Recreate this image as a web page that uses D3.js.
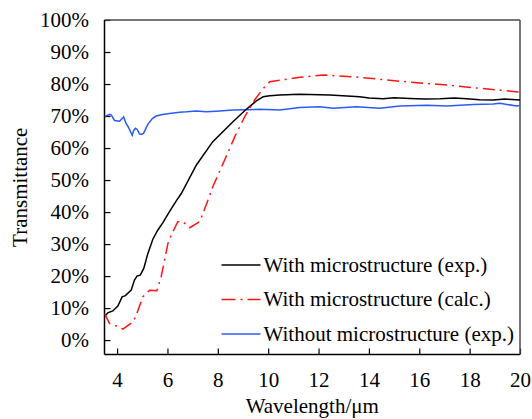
<!DOCTYPE html>
<html>
<head>
<meta charset="utf-8">
<script src="https://cdn.jsdelivr.net/npm/d3@7.9.0/dist/d3.min.js"></script>
<style>
  body { margin: 0; background: #fff; }
  svg { display: block; }
  svg text { font-family: "Liberation Serif", "Times New Roman", serif; fill: #000; }
  .axis text { font-size: 21px; }
  .axis path { display: none; }
  .axis line { stroke: #000; stroke-width: 1.2; }
</style>
</head>
<body>
<svg id="chart" width="532" height="419"></svg>
<script>
// wavelength (um) and transmittance (%)
const expWithWavelength = [3.5, 3.63, 3.83, 4.03, 4.2, 4.33, 4.56, 4.69, 4.79, 4.92, 5.06, 5.22, 5.42, 5.62, 5.82, 6.08, 6.37, 6.55, 7.15, 7.8, 8.6, 9.13, 9.53, 9.8, 10.06, 10.46, 11.25, 12.45, 13.64, 14.0, 14.57, 15.0, 15.63, 16.2, 16.82, 17.4, 17.88, 18.4, 18.94, 19.4, 20];
const expWith = [7.3, 8.5, 9.1, 10.6, 13.5, 13.9, 15.6, 18.75, 20, 20.3, 22.4, 27, 31.5, 34.4, 36.7, 40.1, 43.75, 45.8, 54.7, 62, 68.2, 72.1, 74.7, 76, 76.3, 76.6, 76.8, 76.6, 76, 75.6, 75.4, 75.7, 75.5, 75.3, 75.4, 75.6, 75.4, 75.1, 75, 75.3, 75];

const calcWithWavelength = [3.5, 3.7, 3.9, 4.23, 4.63, 4.76, 5.02, 5.29, 5.58, 5.75, 6.02, 6.15, 6.41, 6.61, 6.88, 7.28, 7.41, 7.61, 7.8, 8.27, 8.67, 9.07, 9.46, 9.8, 10.06, 11.25, 12.18, 13.64, 14.7, 15.9, 17.09, 18.28, 20];
const calcWith = [8.3, 5.2, 4.7, 3.4, 5.7, 7.8, 13.5, 15.6, 15.4, 19.8, 30.2, 32.8, 37, 37, 35.1, 37, 39.6, 43.75, 47.9, 56.25, 63.5, 69.8, 75, 78.6, 80.7, 82.1, 82.8, 82.1, 81.25, 80.4, 79.7, 78.75, 77.5];

const expWithoutWavelength = [3.5, 3.7, 3.77, 3.9, 4.1, 4.26, 4.36, 4.45, 4.6, 4.66, 4.73, 4.8, 4.89, 4.97, 5.05, 5.22, 5.4, 5.55, 5.8, 6.08, 6.48, 6.75, 7.15, 7.54, 7.94, 8.6, 9.13, 9.66, 10.46, 11.25, 12.05, 12.58, 13.5, 14.43, 15.23, 16.29, 17.09, 18.15, 18.94, 19.2, 19.87, 20];
const expWithout = [69.8, 70.5, 70.3, 68.6, 68.4, 69.7, 67.6, 66.5, 64.0, 65.5, 66.2, 65.8, 64.4, 64.3, 64.6, 67.4, 69.2, 70.0, 70.5, 70.8, 71.2, 71.3, 71.6, 71.3, 71.5, 71.9, 72.0, 72.1, 71.9, 72.7, 72.9, 72.4, 72.9, 72.4, 73.1, 73.4, 73.1, 73.6, 73.75, 74.0, 73.1, 73.3];

const xTicks = [4, 6, 8, 10, 12, 14, 16, 18, 20];
const yTicks = [0, 10, 20, 30, 40, 50, 60, 70, 80, 90, 100];

const seriesNames = ['With microstructure (exp.)', 'With microstructure (calc.)', 'Without microstructure (exp.)'];

const svg = d3.select('#chart');
const box = { left: 104.5, right: 520, top: 20, bottom: 354.5 };

const x = d3.scaleLinear().domain([3.5, 20]).range([box.left, box.right]);
const y = d3.scaleLinear().domain([-4.5, 100]).range([box.bottom, box.top]);

svg.append('defs').append('clipPath').attr('id', 'plot')
  .append('rect')
  .attr('x', box.left).attr('y', box.top)
  .attr('width', box.right - box.left).attr('height', box.bottom - box.top);

// axes with inward ticks
svg.append('g')
  .attr('class', 'axis')
  .attr('transform', `translate(${box.left},0)`)
  .call(d3.axisLeft(y).tickValues(yTicks).tickSize(-6).tickPadding(15.5).tickFormat((d) => d + '%'));

svg.append('g')
  .attr('class', 'axis')
  .attr('transform', `translate(0,${box.bottom})`)
  .call(d3.axisBottom(x).tickValues(xTicks).tickSize(-6).tickPadding(17.5).tickFormat(d3.format('d')));

// frame: top and right in grey, left and bottom black
const frame = [
  [box.left, box.top, box.right, box.top, '#4a4a4a'],
  [box.right, box.top, box.right, box.bottom, '#4a4a4a'],
  [box.left, box.top, box.left, box.bottom, '#000'],
  [box.left, box.bottom, box.right, box.bottom, '#000']
];
frame.forEach(([x1, y1, x2, y2, c]) => {
  svg.append('line')
    .attr('x1', x1).attr('y1', y1).attr('x2', x2).attr('y2', y2)
    .attr('stroke', c).attr('stroke-width', 1.5);
});

const line = d3.line()
  .x((d) => x(d[0]))
  .y((d) => y(d[1]));

const series = [
  { xs: expWithWavelength, ys: expWith, color: '#000000', dash: null },
  { xs: calcWithWavelength, ys: calcWith, color: '#ff1414', dash: '12,5,2,5' },
  { xs: expWithoutWavelength, ys: expWithout, color: '#2a5cf5', dash: null }
];

const plot = svg.append('g').attr('clip-path', 'url(#plot)');
// draw blue first so the others sit on top
[2, 0, 1].forEach((i) => {
  let s = series[i];
  plot.append('path')
    .datum(s.xs.map((v, k) => [v, s.ys[k]]))
    .attr('d', line)
    .attr('fill', 'none')
    .attr('stroke', s.color)
    .attr('stroke-width', 1.5)
    .attr('stroke-dasharray', s.dash);
});

// legend
const legend = svg.append('g');
seriesNames.forEach((name, i) => {
  let ly = 265 + i * 34.5;
  legend.append('line')
    .attr('x1', 221.5).attr('x2', 260.5)
    .attr('y1', ly).attr('y2', ly)
    .attr('stroke', series[i].color)
    .attr('stroke-width', 1.5)
    .attr('stroke-dasharray', series[i].dash ? '14,5,2,5' : null);
  legend.append('text')
    .attr('x', 263.5).attr('y', ly)
    .attr('dy', '0.33em')
    .attr('font-size', 21)
    .text(name);
});

// axis titles
svg.append('text')
  .attr('x', (box.left + box.right) / 2).attr('y', 413)
  .attr('text-anchor', 'middle')
  .attr('font-size', 21)
  .text('Wavelength/μm');

svg.append('text')
  .attr('transform', `translate(27,${(box.top + box.bottom) / 2}) rotate(-90)`)
  .attr('text-anchor', 'middle')
  .attr('font-size', 21)
  .text('Transmittance');
</script>
</body>
</html>
